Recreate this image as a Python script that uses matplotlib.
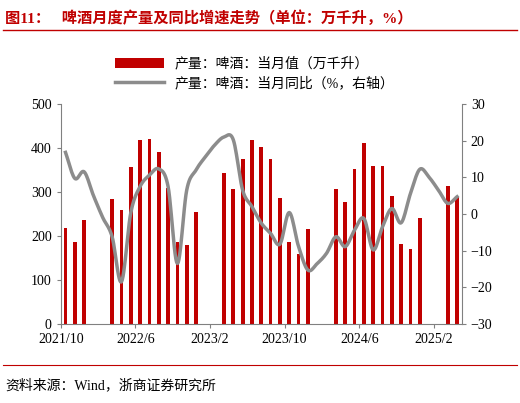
import matplotlib
matplotlib.use("Agg")
import matplotlib.pyplot as plt
import numpy as np

plt.rcParams['font.family'] = ['Liberation Serif', 'Noto Sans CJK SC']

# monthly data 2021/10 .. 2025/4 (Jan/Feb missing -> nan)
months = []
y, m = 2021, 10
for _ in range(43):
    months.append(f"{y}/{m}")
    m += 1
    if m > 12:
        y, m = y + 1, 1

nan = np.nan
output = [219, 187, 236, nan, nan,
          285, 259, 356, 418, 420, 392, 310, 186, 179, 255, nan, nan,
          343, 306, 374, 419, 402, 374, 286, 186, 160, 215, nan, nan,
          307, 277, 353, 411, 358, 358, 290, 181, 170, 242, nan, nan,
          313, 289]
yoy = [16.8, 9.7, 11.5, 5.0, -1.0, -6.2, -18.5, 0.3, 7.5, 10.6, 12.3, 7.5, -13.5,
       6.5, 12.0, 15.6, 18.8, 21.0, 20.2, 6.5, 2.0, -2.5, -5.3, -8.2, 0.4, -8.9,
       -15.3, -13.5, -10.7, -6.2, -8.9, -4.4, -1.2, -9.8, -3.5, 1.5, -2.4, 5.6,
       12.2, 10.0, 6.5, 2.9, 4.7]
tick_idx = [0, 8, 16, 24, 32, 40]


def smooth(xv, yv, n=12):
    # Catmull-Rom curve through the points, like Excel's smoothed line
    xv, yv = np.asarray(xv, float), np.asarray(yv, float)
    px = np.concatenate([[2 * xv[0] - xv[1]], xv, [2 * xv[-1] - xv[-2]]])
    py = np.concatenate([[2 * yv[0] - yv[1]], yv, [2 * yv[-1] - yv[-2]]])
    t = np.linspace(0, 1, n, endpoint=False)
    ox, oy = [], []
    for i in range(1, len(px) - 2):
        for p, o in ((px, ox), (py, oy)):
            p0, p1, p2, p3 = p[i - 1], p[i], p[i + 1], p[i + 2]
            o.extend(0.5 * (2 * p1 + (-p0 + p2) * t + (2 * p0 - 5 * p1 + 4 * p2 - p3) * t ** 2
                            + (-p0 + 3 * p1 - 3 * p2 + p3) * t ** 3))
    ox.append(xv[-1])
    oy.append(yv[-1])
    return ox, oy


x = np.arange(len(months))
fig = plt.figure(figsize=(5.2, 4.03), dpi=100)
ax = fig.add_axes([0.117, 0.196, 0.771, 0.546])
ax2 = ax.twinx()

bars = ax.bar(x, output, width=0.4, color='#c00000', label='产量：啤酒：当月值（万千升）')
sx, sy = smooth(x, yoy)
ln, = ax2.plot(sx, sy, color='#8c8c8c', lw=2.5, label='产量：啤酒：当月同比（%，右轴）')

ax.set_xlim(-0.5, len(x) - 0.5)
ax.set_ylim(0, 500)
ax2.set_ylim(-30, 30)
ax.set_yticks(range(0, 501, 100))
ax2.set_yticks(range(-30, 31, 10))
ax.set_xticks([i - 0.5 for i in tick_idx])
ax.set_xticklabels([months[i] for i in tick_idx])
for a in (ax, ax2):
    a.tick_params(labelsize=10, length=3, color='#808080')
    for s in a.spines.values():
        s.set_visible(False)
ax.spines['left'].set_visible(True)
ax.spines['bottom'].set_visible(True)
ax2.spines['right'].set_visible(True)
for s in (ax.spines['left'], ax.spines['bottom'], ax2.spines['right']):
    s.set_color('#808080')

fig.legend(handles=[bars, ln], loc='upper center', bbox_to_anchor=(0.49, 0.89),
           frameon=False, fontsize=10, handlelength=3.5, labelspacing=0.4)

fig.text(0.01, 0.955, '图11：   啤酒月度产量及同比增速走势（单位：万千升，%）',
         color='#c00000', fontsize=11, fontweight='bold', va='center')
fig.add_artist(plt.Line2D([0.005, 0.995], [0.925, 0.925], color='#c00000', lw=1))
fig.add_artist(plt.Line2D([0.005, 0.995], [0.095, 0.095], color='#c00000', lw=0.8))
fig.text(0.01, 0.045, '资料来源：Wind，浙商证券研究所', fontsize=10, va='center')

fig.savefig('out.png', dpi=100)
